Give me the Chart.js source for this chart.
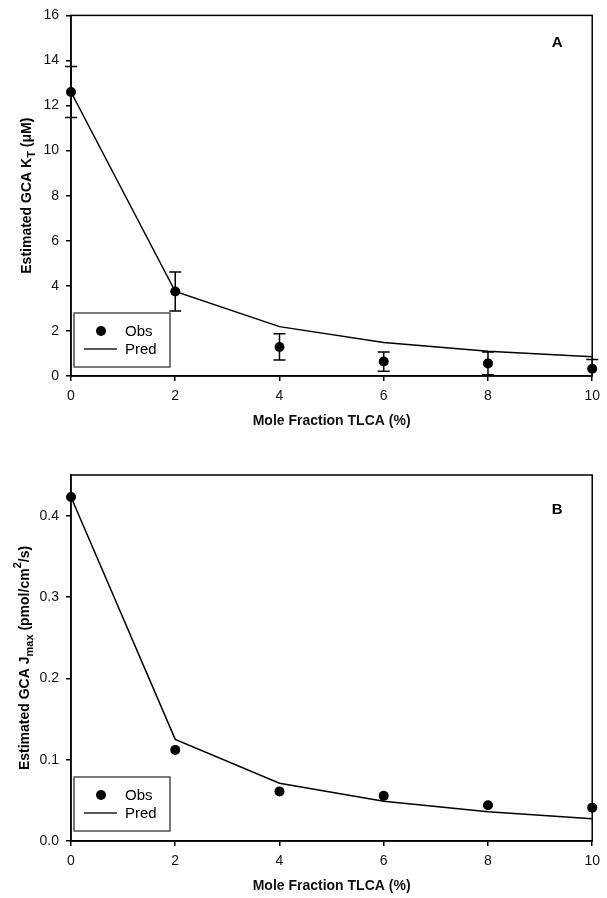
<!DOCTYPE html>
<html>
<head>
<meta charset="utf-8">
<script src="https://cdn.jsdelivr.net/npm/chart.js@4"></script>
<style>
  body { margin: 0; background: #fff; }
  .panel { position: absolute; left: 0; width: 607px; }
</style>
</head>
<body>
<div class="panel" style="top:0;height:433px"><canvas id="chartA" width="607" height="433"></canvas></div>
<div class="panel" style="top:450px;height:448px"><canvas id="chartB" width="607" height="448"></canvas></div>
<script>
// values
const molePct = [0, 2, 4, 6, 8, 10];
const ktObs = [12.6, 3.75, 1.29, 0.64, 0.56, 0.32];
const ktSE = [1.13, 0.87, 0.58, 0.43, 0.5, 0.41];
const ktPred = [12.6, 3.75, 2.19, 1.49, 1.1, 0.85];
const jmaxObs = [0.423, 0.112, 0.061, 0.0555, 0.044, 0.041];
const jmaxPred = [0.423, 0.125, 0.071, 0.049, 0.036, 0.0275];
const xTicks = [0, 2, 4, 6, 8, 10];

const FONT = "'Liberation Sans', Arial, sans-serif";

const toPoints = (xs, ys) => xs.map((x, i) => ({ x: x, y: ys[i] }));

// box round the plot area
const framePlugin = {
    id: 'frame',
    afterDatasetsDraw(chart) {
        const a = chart.chartArea, ctx = chart.ctx;
        ctx.save();
        ctx.strokeStyle = '#000';
        ctx.lineWidth = 1.5;
        ctx.strokeRect(a.left, a.top, a.right - a.left, a.bottom - a.top);
        ctx.restore();
    }
};

// vertical error bars on the Obs series
const errorBarPlugin = {
    id: 'errorBars',
    beforeDatasetsDraw(chart, args, opts) {
        if (!opts.se) return;
        const xs = chart.scales.x, ys = chart.scales.y, a = chart.chartArea, ctx = chart.ctx;
        const obs = chart.data.datasets[0].data;
        ctx.save();
        ctx.beginPath();
        ctx.rect(0, a.top, chart.width, a.bottom - a.top);
        ctx.clip();
        ctx.strokeStyle = '#000';
        ctx.lineWidth = 1.5;
        obs.forEach((p, i) => {
            const px = xs.getPixelForValue(p.x);
            const hi = ys.getPixelForValue(p.y + opts.se[i]);
            const lo = ys.getPixelForValue(p.y - opts.se[i]);
            ctx.beginPath();
            ctx.moveTo(px, hi); ctx.lineTo(px, lo);
            ctx.moveTo(px - 6, hi); ctx.lineTo(px + 6, hi);
            ctx.moveTo(px - 6, lo); ctx.lineTo(px + 6, lo);
            ctx.stroke();
        });
        ctx.restore();
    }
};

// boxed legend in the lower left corner, panel letter, rotated y title with sub/superscripts
const annotatePlugin = {
    id: 'annotate',
    afterDraw(chart, args, opts) {
        const a = chart.chartArea, ctx = chart.ctx;
        const sets = chart.data.datasets;
        ctx.save();

        // legend
        const bx = a.left + 3, bw = 96, bh = 54, by = a.bottom - opts.legendBottom - bh;
        ctx.strokeStyle = '#222';
        ctx.lineWidth = 1.2;
        ctx.strokeRect(bx, by, bw, bh);
        ctx.fillStyle = '#000';
        ctx.beginPath();
        ctx.arc(a.left + 30, by + 18, 5, 0, Math.PI * 2);
        ctx.fill();
        ctx.lineWidth = 1.5;
        ctx.beginPath();
        ctx.moveTo(a.left + 13, by + 36);
        ctx.lineTo(a.left + 46, by + 36);
        ctx.stroke();
        ctx.font = '15px ' + FONT;
        ctx.textBaseline = 'middle';
        ctx.textAlign = 'left';
        ctx.fillText(sets[0].label, a.left + 54, by + 19);
        ctx.fillText(sets[1].label, a.left + 54, by + 37);

        // panel letter
        ctx.font = 'bold 15px ' + FONT;
        ctx.textAlign = 'center';
        ctx.fillText(opts.letter, a.right - 35, a.top + opts.letterTop);

        // y axis title
        const parts = opts.yTitle;
        const fontFor = p => (p.sub || p.sup) ? 'bold 11px ' + FONT : 'bold 14px ' + FONT;
        let total = 0;
        parts.forEach(p => { ctx.font = fontFor(p); total += ctx.measureText(p.t).width; });
        ctx.translate(opts.yTitleX, (a.top + a.bottom) / 2);
        ctx.rotate(-Math.PI / 2);
        ctx.textAlign = 'left';
        ctx.textBaseline = 'alphabetic';
        let cx = -total / 2;
        parts.forEach(p => {
            ctx.font = fontFor(p);
            const dy = p.sub ? 4 : (p.sup ? -8 : 0);
            ctx.fillText(p.t, cx, 5 + dy);
            cx += ctx.measureText(p.t).width;
        });
        ctx.restore();
    }
};

function makePanel(id, obs, pred, yMax, yStep, yDigits, topPad, extra) {
    const ctx = document.getElementById(id).getContext('2d');
    return new Chart(ctx, {
        type: 'scatter',
        data: {
            datasets: [{
                label: 'Obs',
                data: toPoints(molePct, obs),
                pointRadius: 5,
                pointHoverRadius: 5,
                pointBackgroundColor: '#000',
                pointBorderColor: '#000',
                pointBorderWidth: 0,
                showLine: false,
                clip: false
            }, {
                label: 'Pred',
                data: toPoints(molePct, pred),
                showLine: true,
                borderColor: '#000',
                borderWidth: 1.5,
                pointRadius: 0,
                tension: 0,
                clip: false
            }]
        },
        options: {
            responsive: false,
            animation: false,
            layout: { padding: { left: 0, right: 14, top: topPad, bottom: 0 } },
            plugins: {
                legend: { display: false },
                tooltip: { enabled: false },
                errorBars: { se: extra.se },
                annotate: extra
            },
            scales: {
                x: {
                    type: 'linear',
                    min: 0,
                    max: 10,
                    afterBuildTicks: s => { s.ticks = xTicks.map(v => ({ value: v })); },
                    afterFit: s => { s.height = 57; },
                    grid: { drawOnChartArea: false, drawTicks: true, tickLength: 5, color: '#000', lineWidth: 1.5 },
                    border: { color: '#000', width: 1.5 },
                    ticks: { color: '#111', padding: 7, font: { family: FONT, size: 14 } },
                    title: {
                        display: true,
                        text: 'Mole Fraction TLCA (%)',
                        color: '#111',
                        font: { family: FONT, size: 14, weight: 'bold' },
                        padding: { top: 4, bottom: 3 }
                    }
                },
                y: {
                    min: 0,
                    max: yMax,
                    afterFit: s => { s.width = 71; },
                    grid: { drawOnChartArea: false, drawTicks: true, tickLength: 5, color: '#000', lineWidth: 1.5 },
                    border: { color: '#000', width: 1.5 },
                    ticks: {
                        stepSize: yStep,
                        includeBounds: false,
                        color: '#111',
                        padding: 7,
                        font: { family: FONT, size: 14 },
                        callback: v => v.toFixed(yDigits)
                    }
                }
            }
        },
        plugins: [errorBarPlugin, framePlugin, annotatePlugin]
    });
}

document.addEventListener('DOMContentLoaded', () => {
    makePanel('chartA', ktObs, ktPred, 16, 2, 0, 12, {
        se: ktSE,
        letter: 'A',
        letterTop: 27,
        legendBottom: 9,
        yTitleX: 26,
        yTitle: [{ t: 'Estimated GCA K' }, { t: 'T', sub: true }, { t: ' (\u03BCM)' }]
    });
    makePanel('chartB', jmaxObs, jmaxPred, 0.45, 0.1, 1, 25, {
        se: null,
        letter: 'B',
        letterTop: 35,
        legendBottom: 10,
        yTitleX: 24,
        yTitle: [{ t: 'Estimated GCA J' }, { t: 'max', sub: true }, { t: ' (pmol/cm' }, { t: '2', sup: true }, { t: '/s)' }]
    });
});
</script>
</body>
</html>
